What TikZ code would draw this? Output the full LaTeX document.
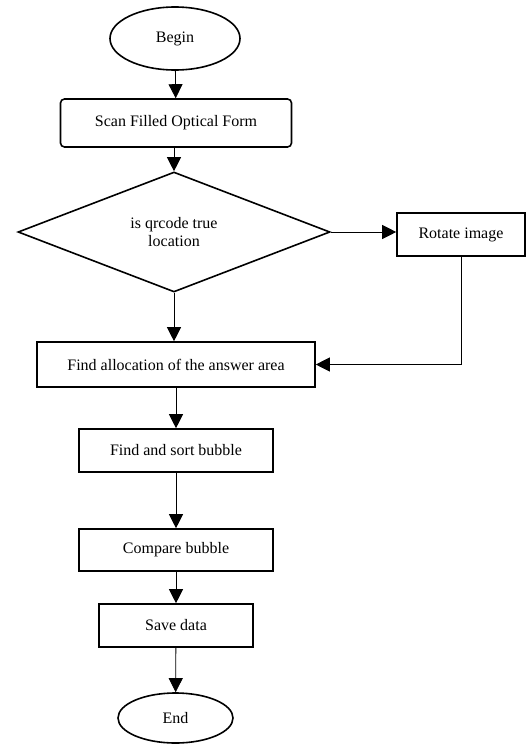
\documentclass[tikz,border=0pt]{standalone}
\usepackage{fontspec}
\setmainfont{Liberation Serif}
\usetikzlibrary{shapes.geometric,arrows.meta}
\tikzset{
  box/.style={draw,line width=1.6pt,inner sep=0pt,align=center},
  term/.style={box,ellipse},
  flow/.style={line width=0.8pt,-{Triangle[length=14pt,width=14pt]}},
}
\begin{document}
\begin{tikzpicture}[x=1pt,y=-1pt,font=\fontsize{16}{18}\selectfont]
\useasboundingbox (0,0) rectangle (527,745);
\node[term,minimum width=130pt,minimum height=63pt] (begin) at (175,38.5) {Begin};
\node[box,rounded corners=4pt,minimum width=231pt,minimum height=48pt] (scan) at (176,123) {Scan Filled Optical Form};
\node[box,diamond,minimum width=312pt,minimum height=120pt] (qr) at (174,232) {is qrcode true\\location};
\node[box,minimum width=128pt,minimum height=43pt] (rotate) at (461,234.5) {Rotate image};
\node[box,minimum width=278pt,minimum height=45pt] (alloc) at (176,364.5) {Find allocation of the answer area};
\node[box,minimum width=194pt,minimum height=43pt] (sort) at (176,450.5) {Find and sort bubble};
\node[box,minimum width=194pt,minimum height=42pt] (compare) at (176,550) {Compare bubble};
\node[box,minimum width=154pt,minimum height=43pt] (save) at (176,625.5) {Save data};
\node[term,minimum width=115pt,minimum height=50pt] (end) at (175.5,718) {End};
\draw[flow] (begin) -- (scan);
\draw[flow] (scan.south -| qr.north) -- (qr);
\draw[flow] (qr.east) -- (qr.east -| rotate.west);
\draw[flow] (qr.south) -- (alloc.north -| qr.south);
\draw[flow] (rotate.south) |- (alloc.east);
\draw[flow] (alloc) -- (sort);
\draw[flow] (sort) -- (compare);
\draw[flow] (compare) -- (save);
\draw[flow] (save) -- (end);
\end{tikzpicture}
\end{document}
